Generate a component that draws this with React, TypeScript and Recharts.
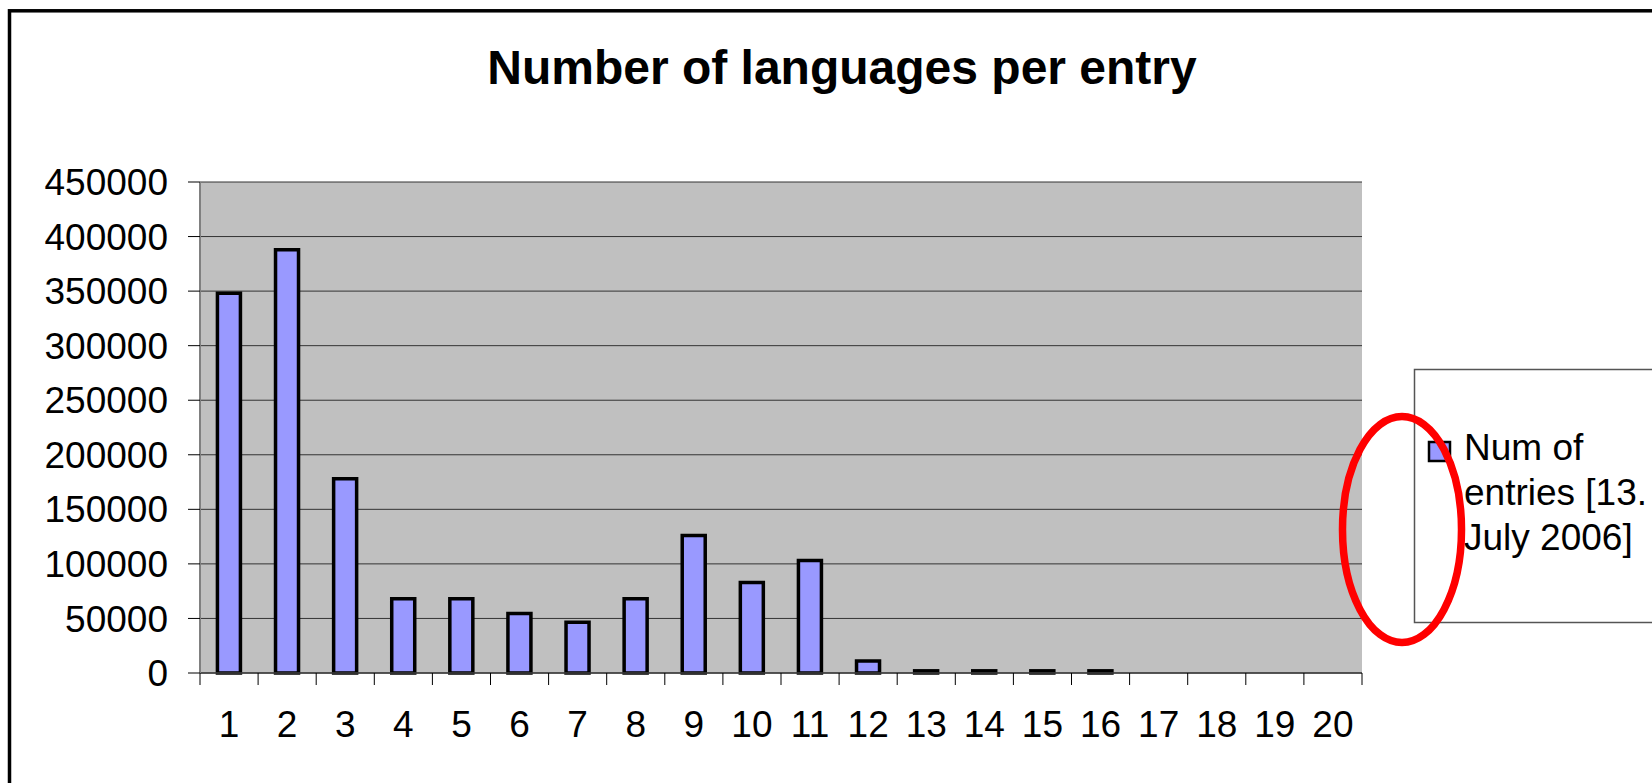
import React from "react";
import { BarChart, Bar, XAxis, YAxis, CartesianGrid } from "recharts";

// ---- data ----
const categories = ["1","2","3","4","5","6","7","8","9","10","11","12","13","14","15","16","17","18","19","20"];
const entries = [348000, 388000, 178000, 68000, 68000, 54500, 46500, 68000, 126000, 83000, 103000, 11000, 2000, 2000, 2000, 2000, 0, 0, 0, 0];
const yTicks = [0, 50000, 100000, 150000, 200000, 250000, 300000, 350000, 400000, 450000];
const title = "Number of languages per entry";
const legendLines = ["Num of", "entries [13.", "July 2006]"];

const data = categories.map((c, i) => ({ cat: c, value: entries[i] }));

const W = 1652;
const H = 783;
const FONT = "'Liberation Sans', Arial, Helvetica, sans-serif";
const TICK_SIZE = 12;
const X_TICK_MARGIN = 26;
const BAR_FILL = "#9999FF";
const LABEL_SIZE = 37;

const XTick = (props: any) => {
  const { x, y, payload, index, visibleTicksCount } = props;
  const half = payload && typeof payload.offset === "number" ? payload.offset : 0;
  const axisY = y - TICK_SIZE - X_TICK_MARGIN;
  const last = index === (visibleTicksCount ?? categories.length) - 1;
  return (
    <g>
      <line x1={x - half} x2={x - half} y1={axisY} y2={axisY + TICK_SIZE} stroke="#000" strokeWidth={1} />
      {last && (
        <line x1={x + half} x2={x + half} y1={axisY} y2={axisY + TICK_SIZE} stroke="#000" strokeWidth={1} />
      )}
      <text x={x} y={y} dy="0.71em" textAnchor="middle" fontSize={LABEL_SIZE} fontFamily={FONT} fill="#000">
        {payload.value}
      </text>
    </g>
  );
};

export default function App() {
  return (
    <div
      style={{
        position: "fixed",
        left: 0,
        top: 0,
        width: W,
        height: H,
        overflow: "hidden",
        background: "#fff",
      }}
    >
      <BarChart
        width={W}
        height={H}
        data={data}
        margin={{ top: 182, right: 290, bottom: 50, left: 0 }}
        barCategoryGap="30%"
      >
        <CartesianGrid vertical={false} stroke="#333" strokeWidth={1} fill="#C0C0C0" />
        <XAxis
          dataKey="cat"
          height={60}
          tickSize={TICK_SIZE}
          tickMargin={X_TICK_MARGIN}
          tickLine={false}
          interval={0}
          axisLine={{ stroke: "#404040", strokeWidth: 1.5 }}
          tick={<XTick />}
        />
        <XAxis
          xAxisId="top"
          dataKey="cat"
          orientation="top"
          height={0}
          tick={false}
          tickLine={false}
          axisLine={{ stroke: "#808080", strokeWidth: 2.5 }}
        />
        <YAxis
          width={200}
          domain={[0, 450000]}
          ticks={yTicks}
          interval={0}
          tickSize={TICK_SIZE}
          tickMargin={20}
          tickLine={{ stroke: "#000", strokeWidth: 1 }}
          axisLine={{ stroke: "#808080", strokeWidth: 2 }}
          tick={{ fontSize: LABEL_SIZE, fontFamily: FONT, fill: "#000" }}
        />
        <YAxis
          yAxisId="right"
          orientation="right"
          width={0}
          domain={[0, 450000]}
          tick={false}
          tickLine={false}
          axisLine={{ stroke: "#808080", strokeWidth: 2.5 }}
        />
        <Bar dataKey="value" fill={BAR_FILL} stroke="#000" strokeWidth={3.5} isAnimationActive={false} />
      </BarChart>
      <svg
        width={W}
        height={H}
        style={{ position: "absolute", left: 0, top: 0, pointerEvents: "none" }}
      >
        <rect x={9.5} y={10.8} width={3000} height={3000} fill="none" stroke="#000" strokeWidth={3.5} />
        <text x={842} y={84} textAnchor="middle" fontSize={48} fontWeight="bold" fontFamily={FONT} fill="#000">
          {title}
        </text>
        <rect x={1414.5} y={369.5} width={1000} height={253} fill="#fff" stroke="#555" strokeWidth={1.5} />
        <rect x={1429} y={442} width={21} height={19} fill={BAR_FILL} stroke="#000" strokeWidth={2.5} />
        {legendLines.map((t, i) => (
          <text key={i} x={1464} y={460 + i * 45} fontSize={LABEL_SIZE} fontFamily={FONT} fill="#000">
            {t}
          </text>
        ))}
        <ellipse cx={1402} cy={529.5} rx={59.5} ry={113} fill="none" stroke="#FF0000" strokeWidth={7.5} />
      </svg>
    </div>
  );
}
